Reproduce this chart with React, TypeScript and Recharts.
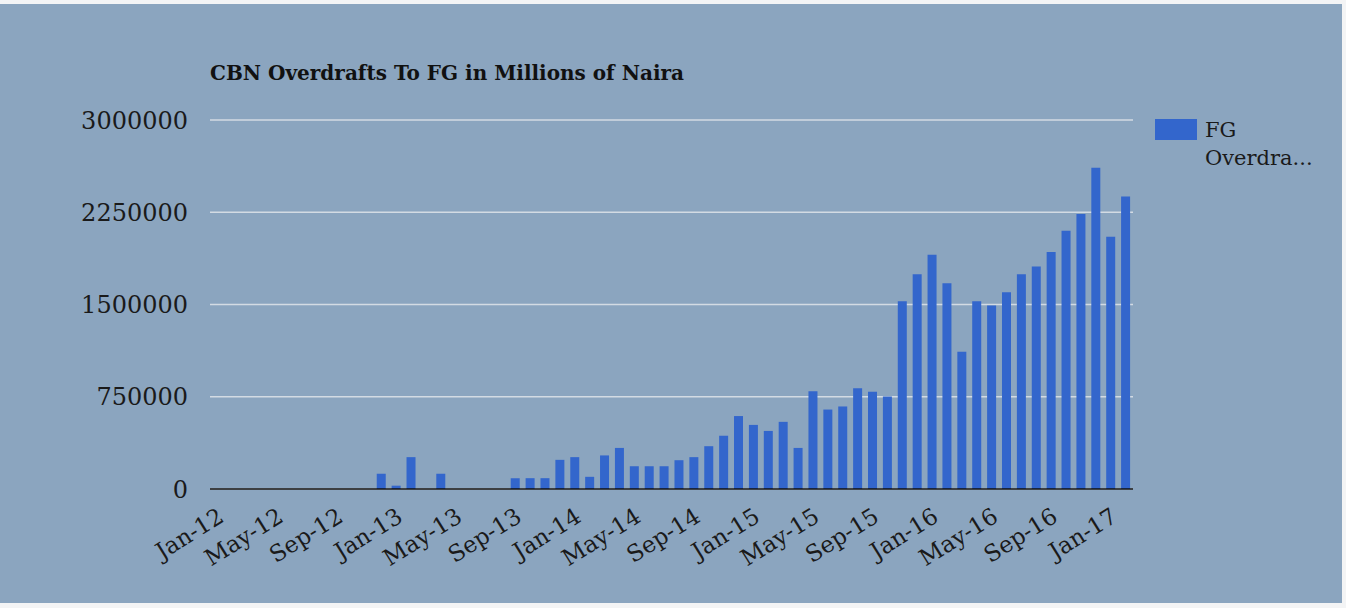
import React from "react";
import { BarChart, Bar, XAxis, YAxis, CartesianGrid } from "recharts";

const months = [
  "Jan-12","Feb-12","Mar-12","Apr-12","May-12","Jun-12","Jul-12","Aug-12","Sep-12","Oct-12","Nov-12","Dec-12",
  "Jan-13","Feb-13","Mar-13","Apr-13","May-13","Jun-13","Jul-13","Aug-13","Sep-13","Oct-13","Nov-13","Dec-13",
  "Jan-14","Feb-14","Mar-14","Apr-14","May-14","Jun-14","Jul-14","Aug-14","Sep-14","Oct-14","Nov-14","Dec-14",
  "Jan-15","Feb-15","Mar-15","Apr-15","May-15","Jun-15","Jul-15","Aug-15","Sep-15","Oct-15","Nov-15","Dec-15",
  "Jan-16","Feb-16","Mar-16","Apr-16","May-16","Jun-16","Jul-16","Aug-16","Sep-16","Oct-16","Nov-16","Dec-16",
  "Jan-17","Feb-17",
];

const overdrafts = [
  0, 0, 0, 0, 0, 0, 0, 0, 0, 0, 0, 124000,
  27000, 259000, 0, 124000, 0, 0, 0, 0, 88000, 88000, 88000, 237000,
  259000, 99000, 273000, 334000, 185000, 185000, 185000, 234000, 259000, 348000, 433000, 593000,
  521000, 472000, 546000, 334000, 795000, 646000, 671000, 820000, 790000, 752000, 1527000, 1746000,
  1905000, 1673000, 1116000, 1527000, 1492000, 1600000, 1746000, 1808000, 1926000, 2100000, 2235000, 2611000,
  2051000, 2378000,
];

const yTicks = [0, 750000, 1500000, 2250000, 3000000];

const legendLines = ["FG", "Overdra..."];

const data = months.map((m, i) => ({ month: m, value: overdrafts[i] }));

const FONT = "'DejaVu Serif', serif";
const BAR = "#3366cc";

const XTick = (props: any) => {
  const { x, y, payload } = props;
  return (
    <g transform={`translate(${x - 1},${y + 9}) rotate(-32)`}>
      <text x={0} y={0} dy={17} textAnchor="end" fontSize={23} fontFamily={FONT} fill="#1a1a1a">
        {payload.value}
      </text>
    </g>
  );
};

export default function App() {
  return (
    <div style={{ position: "fixed", left: 0, top: 0, width: 1346, height: 608, background: "#f3f4f5" }}>
      <div style={{ position: "absolute", left: 0, top: 4, width: 1342, height: 599, background: "#8ba5bf" }}>
        <div
          style={{
            position: "absolute",
            left: 210,
            top: 57,
            fontFamily: FONT,
            fontWeight: "bold",
            fontSize: 20,
            color: "#111",
            whiteSpace: "nowrap",
          }}
        >
          CBN Overdrafts To FG in Millions of Naira
        </div>
        <div
          style={{
            position: "absolute",
            left: 1155,
            top: 112,
            display: "flex",
            alignItems: "flex-start",
            fontFamily: FONT,
            fontSize: 21,
            color: "#1a1a1a",
          }}
        >
          <div style={{ width: 42, height: 21, background: BAR, marginTop: 3, marginRight: 8 }} />
          <div style={{ lineHeight: "28px", whiteSpace: "nowrap" }}>
            {legendLines.map((l) => (
              <div key={l}>{l}</div>
            ))}
          </div>
        </div>
        <BarChart
          width={1342}
          height={599}
          data={data}
          margin={{ top: 116, right: 209, bottom: 0, left: 0 }}
          barCategoryGap="20%"
        >
          <CartesianGrid vertical={false} stroke="#d3dbe3" strokeWidth={1.5} />
          <XAxis
            dataKey="month"
            interval={3}
            height={114}
            tickLine={false}
            axisLine={{ stroke: "#111", strokeWidth: 1.5 }}
            tick={<XTick />}
          />
          <YAxis
            domain={[0, 3000000]}
            ticks={yTicks}
            width={210}
            tickLine={false}
            axisLine={false}
            tickMargin={16}
            tick={{ fontSize: 24, fontFamily: FONT, fill: "#1a1a1a" }}
          />
          <Bar dataKey="value" name="FG Overdrafts" fill={BAR} isAnimationActive={false} />
        </BarChart>
      </div>
    </div>
  );
}
